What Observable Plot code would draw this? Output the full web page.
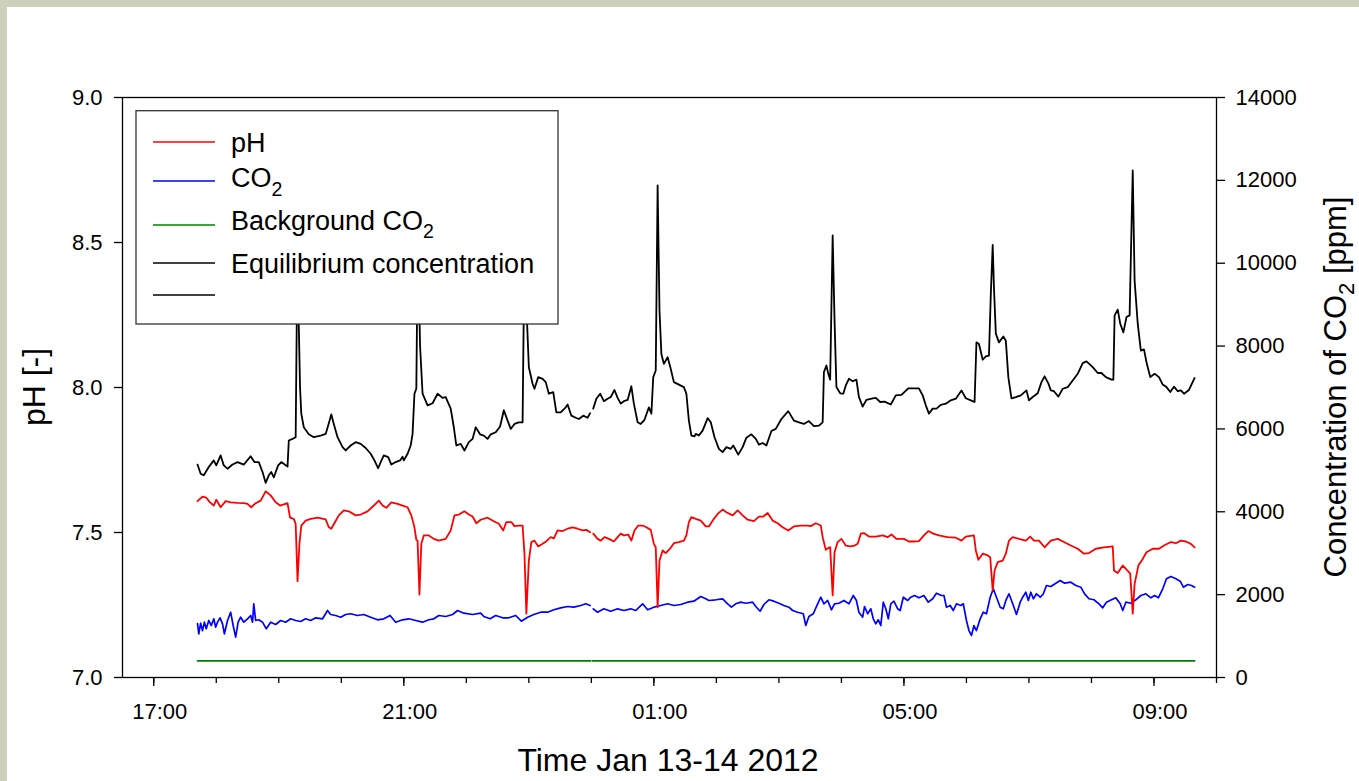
<!DOCTYPE html>
<html>
<head>
<meta charset="utf-8">
<script src="https://cdn.jsdelivr.net/npm/d3@7"></script>
<script src="https://cdn.jsdelivr.net/npm/@observablehq/plot@0.6"></script>
<style>
  html, body { margin: 0; padding: 0; }
  body { width: 1359px; height: 781px; overflow: hidden; position: relative; background: #cdd1bb; font-family: "Liberation Sans", Arial, sans-serif; }
  #panel { position: absolute; left: 7px; top: 7px; right: 0; bottom: 0; background: #ffffff; }
  #chart { position: absolute; left: 0; top: 0; }
</style>
</head>
<body>
<div id="panel"></div>
<div id="chart"></div>
<script>
// ---- Data (time in decimal hours from Jan 13 2012 00:00; >24 = Jan 14) ----
const seriesNames = ["pH", "CO2", "Background CO2", "Equilibrium concentration", ""];
const seriesColors = ["#ff0000", "#0000ff", "#008000", "#000000", "#000000"];

// pH [-]
const phData = [[17.70,7.608],[17.78,7.624],[17.84,7.620],[17.90,7.604],[17.96,7.593],[18.00,7.613],[18.07,7.587],[18.15,7.608],[18.23,7.604],[18.34,7.602],[18.44,7.601],[18.50,7.599],[18.56,7.587],[18.63,7.601],[18.71,7.610],[18.79,7.642],[18.87,7.628],[18.95,7.604],[19.02,7.593],[19.14,7.601],[19.18,7.551],[19.24,7.547],[19.27,7.530],[19.30,7.332],[19.33,7.461],[19.36,7.524],[19.43,7.541],[19.51,7.547],[19.62,7.551],[19.75,7.545],[19.80,7.518],[19.84,7.513],[19.90,7.536],[19.96,7.559],[20.04,7.576],[20.12,7.573],[20.23,7.559],[20.31,7.562],[20.42,7.573],[20.52,7.593],[20.60,7.610],[20.66,7.593],[20.72,7.585],[20.80,7.604],[20.90,7.599],[20.98,7.593],[21.06,7.587],[21.12,7.559],[21.17,7.518],[21.20,7.475],[21.22,7.472],[21.25,7.286],[21.28,7.461],[21.32,7.490],[21.40,7.490],[21.48,7.478],[21.56,7.472],[21.67,7.478],[21.75,7.507],[21.81,7.559],[21.88,7.562],[21.97,7.573],[22.04,7.562],[22.10,7.555],[22.16,7.532],[22.23,7.544],[22.34,7.551],[22.44,7.539],[22.52,7.530],[22.59,7.507],[22.64,7.536],[22.72,7.536],[22.77,7.522],[22.84,7.524],[22.90,7.524],[22.93,7.427],[22.96,7.220],[23.00,7.403],[23.04,7.467],[23.09,7.472],[23.15,7.452],[23.22,7.461],[23.28,7.470],[23.35,7.484],[23.40,7.480],[23.46,7.507],[23.54,7.505],[23.62,7.513],[23.70,7.518],[23.78,7.513],[23.86,7.507],[23.92,7.509],[23.98,7.501],
[24.03,7.496],[24.10,7.478],[24.15,7.472],[24.21,7.484],[24.28,7.478],[24.36,7.469],[24.42,7.484],[24.47,7.496],[24.52,7.490],[24.59,7.493],[24.64,7.472],[24.69,7.507],[24.75,7.524],[24.82,7.524],[24.88,7.518],[24.95,7.509],[25.00,7.461],[25.03,7.449],[25.06,7.242],[25.09,7.403],[25.14,7.438],[25.19,7.429],[25.27,7.447],[25.32,7.463],[25.40,7.467],[25.48,7.472],[25.52,7.490],[25.56,7.536],[25.60,7.553],[25.67,7.547],[25.75,7.541],[25.83,7.521],[25.88,7.521],[25.96,7.547],[26.02,7.564],[26.10,7.579],[26.16,7.570],[26.26,7.559],[26.34,7.576],[26.42,7.559],[26.50,7.544],[26.60,7.539],[26.68,7.555],[26.75,7.555],[26.82,7.567],[26.90,7.541],[26.98,7.532],[27.06,7.518],[27.15,7.507],[27.24,7.521],[27.35,7.524],[27.46,7.524],[27.51,7.522],[27.59,7.532],[27.67,7.524],[27.70,7.484],[27.75,7.440],[27.79,7.447],[27.82,7.449],[27.86,7.283],[27.89,7.432],[27.94,7.467],[28.00,7.478],[28.07,7.455],[28.14,7.452],[28.21,7.455],[28.26,7.461],[28.31,7.496],[28.36,7.498],[28.44,7.486],[28.55,7.486],[28.66,7.490],[28.74,7.484],[28.80,7.493],[28.88,7.478],[29.00,7.478],[29.08,7.469],[29.16,7.469],[29.24,7.470],[29.32,7.490],[29.39,7.505],[29.47,7.496],[29.56,7.490],[29.65,7.486],[29.70,7.484],[29.83,7.482],[29.92,7.472],[29.99,7.486],[30.12,7.490],[30.15,7.438],[30.19,7.406],[30.26,7.427],[30.34,7.421],[30.38,7.415],[30.42,7.300],[30.45,7.369],[30.50,7.398],[30.58,7.403],[30.63,7.427],[30.68,7.472],[30.74,7.484],[30.84,7.478],[30.95,7.472],[31.02,7.486],[31.08,7.472],[31.16,7.472],[31.25,7.449],[31.35,7.472],[31.46,7.478],[31.56,7.467],[31.67,7.455],[31.78,7.444],[31.88,7.427],[31.96,7.429],[32.07,7.444],[32.20,7.449],[32.34,7.452],[32.36,7.369],[32.42,7.360],[32.50,7.386],[32.55,7.375],[32.62,7.358],[32.66,7.220],[32.69,7.323],[32.75,7.386],[32.82,7.409],[32.88,7.432],[32.98,7.444],[33.08,7.444],[33.16,7.455],[33.27,7.467],[33.35,7.463],[33.43,7.472],[33.51,7.469],[33.59,7.461],[33.65,7.449]];

// CO2 [ppm]
const co2Data = [[17.70,1300],[17.72,1050],[17.75,1310],[17.78,1130],[17.81,1335],[17.84,1175],[17.88,1376],[17.92,1255],[17.96,1417],[17.99,1214],[18.02,1335],[18.06,1441],[18.10,1296],[18.13,1055],[18.18,1376],[18.23,1576],[18.27,1255],[18.31,973],[18.35,1335],[18.39,1456],[18.44,1335],[18.50,1417],[18.55,1497],[18.58,1335],[18.60,1779],[18.63,1376],[18.68,1393],[18.74,1335],[18.80,1175],[18.87,1335],[18.95,1279],[19.03,1376],[19.11,1335],[19.19,1417],[19.27,1376],[19.35,1352],[19.43,1417],[19.51,1376],[19.59,1441],[19.70,1417],[19.78,1617],[19.83,1521],[19.91,1497],[19.99,1456],[20.07,1521],[20.15,1538],[20.26,1497],[20.36,1521],[20.47,1456],[20.58,1393],[20.68,1417],[20.78,1497],[20.87,1335],[20.98,1393],[21.08,1417],[21.19,1376],[21.30,1335],[21.40,1393],[21.48,1417],[21.56,1497],[21.67,1472],[21.78,1521],[21.86,1617],[21.96,1552],[22.10,1521],[22.23,1552],[22.28,1472],[22.38,1417],[22.47,1497],[22.58,1441],[22.68,1441],[22.79,1497],[22.88,1359],[22.98,1456],[23.08,1521],[23.19,1576],[23.30,1576],[23.40,1634],[23.51,1682],[23.62,1714],[23.72,1697],[23.83,1738],[23.91,1779],[23.98,1738],
[24.03,1658],[24.10,1576],[24.20,1658],[24.31,1600],[24.42,1658],[24.52,1617],[24.63,1658],[24.71,1617],[24.82,1779],[24.90,1634],[25.00,1697],[25.11,1738],[25.22,1779],[25.32,1738],[25.43,1762],[25.54,1818],[25.64,1842],[25.75,1955],[25.83,1900],[25.88,1859],[25.99,1876],[26.10,1900],[26.18,1779],[26.24,1697],[26.31,1779],[26.39,1818],[26.47,1793],[26.58,1818],[26.63,1714],[26.70,1600],[26.76,1762],[26.84,1876],[26.92,1842],[27.00,1793],[27.08,1738],[27.16,1697],[27.22,1617],[27.30,1576],[27.39,1538],[27.43,1255],[27.48,1472],[27.55,1538],[27.62,1779],[27.67,1938],[27.72,1779],[27.78,1859],[27.84,1634],[27.89,1779],[27.96,1793],[28.04,1859],[28.12,1779],[28.19,1979],[28.24,1859],[28.28,1576],[28.34,1456],[28.37,1714],[28.42,1538],[28.47,1658],[28.51,1417],[28.55,1296],[28.59,1393],[28.63,1255],[28.67,1818],[28.71,1658],[28.75,1417],[28.79,1779],[28.84,1842],[28.90,1658],[28.94,1617],[28.99,1938],[29.06,1859],[29.11,1938],[29.17,1979],[29.24,1924],[29.32,1979],[29.39,1818],[29.46,1900],[29.52,2035],[29.60,1979],[29.64,1979],[29.68,1697],[29.74,1738],[29.79,1617],[29.84,1779],[29.91,1738],[29.95,1779],[30.00,1376],[30.04,1134],[30.08,1014],[30.12,1255],[30.16,1134],[30.22,1417],[30.27,1576],[30.32,1538],[30.38,1938],[30.43,2141],[30.48,1938],[30.54,1697],[30.59,1658],[30.63,1859],[30.68,2020],[30.74,1779],[30.80,1521],[30.86,1818],[30.90,1938],[30.95,2059],[30.99,1859],[31.03,2059],[31.07,1900],[31.12,2020],[31.18,1938],[31.23,2020],[31.28,2221],[31.35,2197],[31.43,2276],[31.50,2341],[31.57,2276],[31.67,2300],[31.75,2221],[31.83,2180],[31.89,2020],[31.96,1900],[32.04,1876],[32.12,1779],[32.18,1682],[32.24,1818],[32.32,1876],[32.39,1924],[32.46,1779],[32.50,1617],[32.55,1818],[32.63,1793],[32.71,1876],[32.79,1979],[32.87,2020],[32.95,1924],[33.01,1979],[33.07,1924],[33.14,2141],[33.20,2382],[33.27,2438],[33.35,2382],[33.42,2324],[33.47,2180],[33.54,2245],[33.60,2221],[33.65,2180]];

// Background CO2 [ppm]
const bgData = [[17.70,400],[23.99,400],[24.02,400],[33.65,400]];

// Equilibrium concentration [ppm]
const eqData = [[17.70,5140],[17.75,4920],[17.80,4880],[17.88,5080],[17.96,5240],[18.00,5120],[18.07,5360],[18.12,5120],[18.18,5040],[18.26,5140],[18.34,5200],[18.44,5140],[18.55,5340],[18.61,5200],[18.68,5200],[18.74,4960],[18.79,4700],[18.84,4880],[18.88,4960],[18.92,4830],[18.99,5120],[19.04,5200],[19.14,5090],[19.16,5720],[19.22,5760],[19.27,5800],[19.29,9000],[19.30,10200],[19.32,8500],[19.34,7000],[19.36,6370],[19.40,6040],[19.48,5870],[19.56,5800],[19.67,5840],[19.75,5880],[19.79,6080],[19.84,6350],[19.88,6120],[19.94,5800],[20.02,5560],[20.07,5480],[20.15,5600],[20.23,5680],[20.31,5640],[20.39,5540],[20.47,5400],[20.53,5240],[20.59,5050],[20.63,5200],[20.68,5360],[20.75,5320],[20.80,5140],[20.87,5200],[20.94,5240],[20.98,5330],[21.00,5240],[21.06,5400],[21.11,5600],[21.14,5880],[21.17,6850],[21.20,6970],[21.22,10000],[21.24,9500],[21.26,8000],[21.30,6850],[21.38,6570],[21.46,6620],[21.54,6850],[21.62,6750],[21.67,6770],[21.75,6490],[21.80,6040],[21.84,5600],[21.91,5640],[21.97,5480],[22.04,5680],[22.10,5760],[22.15,6040],[22.22,5870],[22.28,5840],[22.34,5760],[22.39,5870],[22.47,5920],[22.54,6060],[22.60,6450],[22.66,6200],[22.71,6000],[22.77,6120],[22.84,6160],[22.90,6160],[22.92,9000],[22.94,10500],[22.96,9000],[23.00,7490],[23.06,7090],[23.09,6970],[23.15,7250],[23.22,7210],[23.27,7130],[23.32,6850],[23.39,6890],[23.44,6400],[23.51,6400],[23.59,6520],[23.62,6590],[23.68,6320],[23.75,6270],[23.80,6240],[23.87,6320],[23.94,6270],[23.98,6380],
[24.03,6490],[24.08,6730],[24.14,6850],[24.20,6670],[24.26,6730],[24.31,6770],[24.37,6940],[24.42,6750],[24.47,6610],[24.52,6670],[24.58,6700],[24.64,7030],[24.68,6610],[24.74,6160],[24.79,6120],[24.85,6220],[24.92,6520],[24.96,6370],[24.99,7250],[25.03,7410],[25.06,11880],[25.09,8860],[25.12,7810],[25.16,7570],[25.22,7730],[25.27,7450],[25.32,7130],[25.40,7070],[25.48,7010],[25.52,6850],[25.56,6200],[25.60,5840],[25.65,5820],[25.67,5880],[25.72,5840],[25.78,5960],[25.86,6260],[25.91,6160],[25.97,5800],[26.04,5520],[26.10,5440],[26.16,5560],[26.23,5520],[26.27,5600],[26.35,5380],[26.42,5560],[26.48,5790],[26.56,5870],[26.63,5760],[26.68,5620],[26.74,5660],[26.80,5600],[26.88,5950],[26.95,6000],[27.04,6240],[27.15,6430],[27.24,6200],[27.32,6160],[27.40,6120],[27.48,6190],[27.56,6070],[27.64,6080],[27.70,6160],[27.72,7370],[27.76,7530],[27.79,7330],[27.82,7190],[27.86,10670],[27.89,8620],[27.92,7010],[27.98,6860],[28.03,6850],[28.07,7050],[28.12,7210],[28.18,7150],[28.24,7190],[28.28,6770],[28.34,6540],[28.40,6700],[28.50,6740],[28.55,6750],[28.62,6650],[28.69,6660],[28.79,6590],[28.87,6810],[28.96,6820],[29.07,6980],[29.17,6980],[29.24,6980],[29.30,6810],[29.35,6570],[29.40,6370],[29.46,6490],[29.52,6490],[29.59,6580],[29.67,6610],[29.75,6690],[29.83,6730],[29.92,6930],[29.99,6740],[30.07,6690],[30.13,6650],[30.16,8090],[30.20,8050],[30.26,7670],[30.31,7750],[30.36,7770],[30.39,9260],[30.42,10440],[30.44,9420],[30.47,8300],[30.52,8090],[30.59,8230],[30.63,8130],[30.67,7250],[30.72,6740],[30.79,6770],[30.87,6810],[30.96,6930],[31.00,6690],[31.06,6770],[31.14,6860],[31.20,7130],[31.25,7270],[31.31,7100],[31.35,6930],[31.40,6910],[31.47,6780],[31.54,6970],[31.62,7010],[31.70,7170],[31.78,7330],[31.86,7590],[31.92,7630],[32.02,7490],[32.10,7350],[32.16,7350],[32.23,7250],[32.32,7190],[32.35,7190],[32.37,8740],[32.42,8880],[32.46,8540],[32.51,8330],[32.56,8700],[32.61,8740],[32.66,12240],[32.69,9580],[32.74,8540],[32.79,7890],[32.84,7920],[32.88,7610],[32.94,7250],[33.01,7330],[33.08,7250],[33.14,7070],[33.20,7010],[33.26,6890],[33.32,7020],[33.38,6910],[33.43,6930],[33.48,6850],[33.56,6940],[33.65,7230]];

// Axis ticks
const xDomainHours = [16.5, 34];
const xMinorTickHours = [17,18,19,20,21,22,23,24,25,26,27,28,29,30,31,32,33,34];
const xMajorTickHours = [17,21,25,29,33];
const xMajorTickLabels = ["17:00","21:00","01:00","05:00","09:00"];
const phTicks = [7.0, 7.5, 8.0, 8.5, 9.0];
const co2Ticks = [0, 2000, 4000, 6000, 8000, 10000, 12000, 14000];
const phDomain = [7, 9];
const co2Max = 14000;

// ---- Helpers ----
const base = Date.UTC(2012, 0, 13);
const toDate = h => new Date(base + h * 3600e3);
const co2ToPh = c => phDomain[0] + c / co2Max * (phDomain[1] - phDomain[0]);
const rows = arr => arr.map(([h, v]) => ({t: toDate(h), v, day: h < 24 ? 1 : 2}));

const phRows = rows(phData), co2Rows = rows(co2Data), bgRows = rows(bgData), eqRows = rows(eqData);
const majorDates = xMajorTickHours.map(toDate);
const minorDates = xMinorTickHours.map(toDate);
const labelFor = d => xMajorTickLabels[xMajorTickHours.indexOf(Math.round((d - base) / 3600e3))];

const FONT = '"Liberation Sans", Arial, Helvetica, sans-serif';
const W = 1359, H = 781;

const chart = Plot.plot({
  width: W, height: H,
  marginTop: 97, marginBottom: 104, marginLeft: 122, marginRight: 143,
  style: {background: "transparent", fontFamily: FONT, fontSize: "22px", color: "#000", overflow: "visible"},
  x: {type: "utc", domain: xDomainHours.map(toDate)},
  y: {domain: phDomain},
  marks: [
    Plot.line(bgRows, {x: "t", y: d => co2ToPh(d.v), z: "day", stroke: seriesColors[2], strokeWidth: 1.7}),
    Plot.line(co2Rows, {x: "t", y: d => co2ToPh(d.v), z: "day", stroke: seriesColors[1], strokeWidth: 1.7}),
    Plot.line(phRows, {x: "t", y: "v", z: "day", stroke: seriesColors[0], strokeWidth: 1.8}),
    Plot.line(eqRows, {x: "t", y: d => co2ToPh(d.v), z: "day", stroke: seriesColors[3], strokeWidth: 1.8}),
    Plot.frame({stroke: "#000", strokeWidth: 1.3}),
    Plot.axisY(phTicks, {anchor: "left", tickSize: 8, tickPadding: 12, strokeWidth: 1.3, tickFormat: d3.format(".1f"), label: null}),
    Plot.axisY(co2Ticks.map(co2ToPh), {anchor: "right", tickSize: 8, tickPadding: 11, strokeWidth: 1.3,
      tickFormat: d => String(Math.round((d - phDomain[0]) / (phDomain[1] - phDomain[0]) * co2Max)), label: null}),
    Plot.axisX(minorDates, {anchor: "bottom", tickSize: 6, strokeWidth: 1.3, tickFormat: () => "", label: null}),
    Plot.axisX(majorDates, {anchor: "bottom", tickSize: 9, strokeWidth: 1.3, tickFormat: () => "", label: null}),
    Plot.axisX(majorDates, {anchor: "bottom", tickSize: 0, tickPadding: 25.7, dx: 6, tickFormat: labelFor, label: null})
  ]
});

document.getElementById("chart").appendChild(chart);

// ---- Axis titles and legend (decorations) ----
const svg = d3.select(chart);
const g = svg.append("g").attr("font-family", FONT).attr("fill", "#000");

function sub(textSel, main, subTxt, rest, subSize, drop) {
  textSel.append("tspan").text(main);
  textSel.append("tspan").attr("font-size", subSize).attr("dy", drop).text(subTxt);
  if (rest) textSel.append("tspan").attr("dy", -drop).text(rest);
}

g.append("text").attr("transform", "translate(45,387) rotate(-90)")
  .attr("text-anchor", "middle").attr("font-size", 32).text("pH [-]");

const rt = g.append("text").attr("transform", "translate(1346,387) rotate(-90)")
  .attr("text-anchor", "middle").attr("font-size", 31);
sub(rt, "Concentration of CO", "2", " [ppm]", 22, 8);

g.append("text").attr("x", 668).attr("y", 770.7).attr("text-anchor", "middle")
  .attr("font-size", 32).text("Time Jan 13-14 2012");

// Legend box
const lg = svg.append("g").attr("font-family", FONT).attr("text-anchor", "start");
lg.append("rect").attr("x", 136).attr("y", 110.7).attr("width", 422).attr("height", 213.3)
  .attr("fill", "#fff").attr("stroke", "#333").attr("stroke-width", 1.3);
const lineYs = [142, 181, 225, 263, 295];
const textYs = [152.3, 187.3, 230, 273.3, null];
seriesNames.forEach((name, i) => {
  lg.append("line").attr("x1", 153).attr("x2", 215).attr("y1", lineYs[i]).attr("y2", lineYs[i])
    .attr("stroke", seriesColors[i]).attr("stroke-width", 1.4);
  if (textYs[i] == null || !name) return;
  const t = lg.append("text").attr("x", 231).attr("y", textYs[i]).attr("font-size", 27)
    .attr("text-anchor", "start").attr("fill", "#000");
  if (name.endsWith("CO2")) sub(t, name.slice(0, -1), "2", null, 19.5, 8.4);
  else t.text(name);
});
</script>
</body>
</html>
